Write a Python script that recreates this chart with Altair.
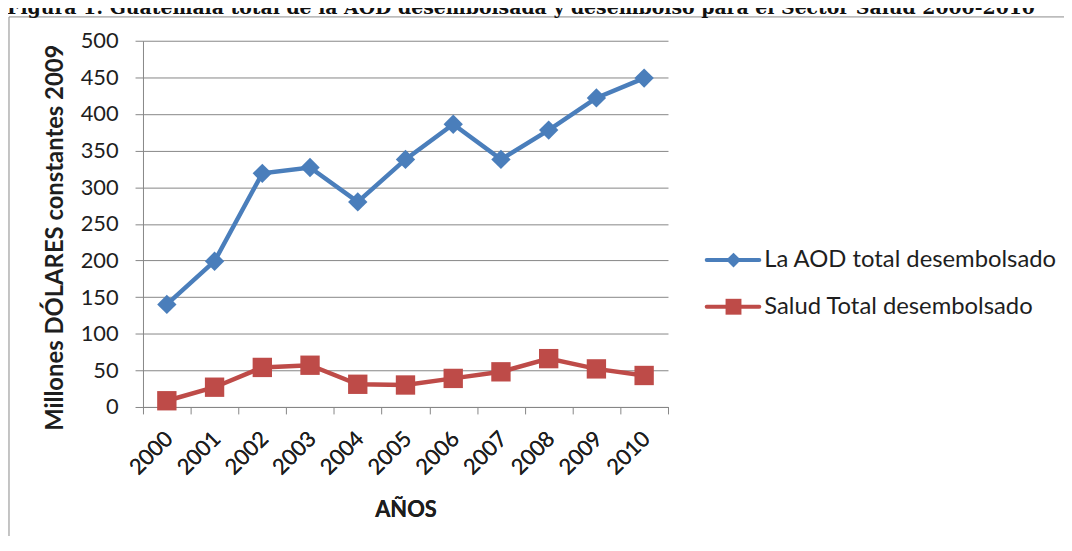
import altair as alt
import pandas as pd

# ---- data ----
years = [2000, 2001, 2002, 2003, 2004, 2005, 2006, 2007, 2008, 2009, 2010]
aod = [140, 199, 319, 327, 280, 338, 386, 338, 378, 422, 449]
salud = [8.5, 27, 54, 57, 31, 30, 39, 48, 66, 52, 43]
series_names = ["La AOD total desembolsado", "Salud Total desembolsado"]
colors = ["#4A7EBB", "#BE4B48"]
shapes = ["diamond", "square"]
y_ticks = [0, 50, 100, 150, 200, 250, 300, 350, 400, 450, 500]
x_bounds = [y - 0.5 for y in years] + [years[-1] + 0.5]
title_text = "Figura 1: Guatemala total de la AOD desembolsada y desembolso para el Sector Salud 2000-2010"
x_title = "AÑOS"
y_title = "Millones DÓLARES constantes 2009"

W, H = 529, 369
FONT = "Lato"
GRID = "#868686"
TXT = "#1e1e1e"

df = pd.DataFrame({
    "year": years * 2,
    "value": aod + salud,
    "series": [series_names[0]] * len(years) + [series_names[1]] * len(years),
})
one = pd.DataFrame({"k": [0]})

xscale = alt.Scale(domain=[x_bounds[0], x_bounds[-1]], nice=False, zero=False)
yscale = alt.Scale(domain=[0, 500], nice=False)

xaxis_labels = alt.Axis(
    orient="bottom",
    values=years, format="d", labelAngle=315, labelAlign="right", labelBaseline="middle",
    labelPadding=28, labelOffset=2, ticks=False, tickSize=0, domain=True, domainColor=GRID,
    grid=False, labelFont=FONT, labelFontSize=22, labelColor=TXT, labelFlush=False,
    labelOverlap=False, title=x_title, titleFont=FONT, titleFontSize=22, titleFontWeight="bold",
    titleX=W / 2, titleY=110, titleBaseline="alphabetic", titleAlign="center", titleColor=TXT,
)
xaxis_ticks = alt.Axis(
    orient="bottom",
    values=x_bounds, labels=False, ticks=True, tickSize=7, tickColor=GRID, domain=True,
    domainColor=GRID, grid=False, title=None,
)
yaxis = alt.Axis(
    values=y_ticks, grid=True, gridColor=GRID, gridWidth=1, domainColor=GRID, tickColor=GRID,
    tickSize=8, labelPadding=17, labelFont=FONT, labelFontSize=22, labelColor=TXT,
    title=y_title, titleFont=FONT, titleFontSize=24, titleFontWeight="bold",
    titleX=-88, titleY=198, titleBaseline="middle", titleAlign="center", titleAngle=270,
    titleColor=TXT,
)

color_enc = alt.Color("series:N", scale=alt.Scale(domain=series_names, range=colors), legend=None)
shape_enc = alt.Shape("series:N", scale=alt.Scale(domain=series_names, range=shapes), legend=None)

base = alt.Chart(df).encode(
    x=alt.X("year:Q", scale=xscale, axis=xaxis_labels),
    y=alt.Y("value:Q", scale=yscale, axis=yaxis),
    color=color_enc,
)
lines = base.mark_line(strokeWidth=4.5)
points = base.mark_point(filled=True, size=380, opacity=1).encode(shape=shape_enc)

tick_layer = alt.Chart(df).mark_point(opacity=0).encode(
    x=alt.X("year:Q", scale=xscale, axis=xaxis_ticks),
    y=alt.Y("value:Q", scale=yscale, axis=yaxis),
)

# frame and (clipped) figure caption
frame_left = alt.Chart(one).mark_rule(color="#8a8a8a", strokeWidth=1).encode(
    x=alt.value(-135), y=alt.value(-24), y2=alt.value(H + 300))
frame_top = alt.Chart(one).mark_rule(color="#8a8a8a", strokeWidth=1).encode(
    x=alt.value(-135), x2=alt.value(W + 600), y=alt.value(-24))
caption = alt.Chart(one).mark_text(
    text=title_text, align="left", baseline="alphabetic", font="DejaVu Serif",
    fontWeight="bold", fontSize=19, color="#111111").encode(
    x=alt.value(-137), y=alt.value(-27))

# manual legend
leg_layers = []
leg_y = [221, 268]
leg_sizes = [225, 256]
for i, name in enumerate(series_names):
    leg_layers.append(alt.Chart(one).mark_rule(color=colors[i], strokeWidth=4, strokeCap="round").encode(
        x=alt.value(568), x2=alt.value(621), y=alt.value(leg_y[i])))
    leg_layers.append(alt.Chart(one).mark_point(filled=True, opacity=1, color=colors[i],
                                                shape=shapes[i], size=leg_sizes[i]).encode(
        x=alt.value(595), y=alt.value(leg_y[i])))
    leg_layers.append(alt.Chart(one).mark_text(text=name, align="left", baseline="middle",
                                               font=FONT, fontSize=24, color=TXT).encode(
        x=alt.value(626), y=alt.value(leg_y[i])))

chart = alt.layer(
    frame_left, frame_top, caption, tick_layer, lines, points, *leg_layers
).resolve_axis(x="independent").properties(
    width=W, height=H,
    padding={"left": 136, "top": 31, "right": 399, "bottom": 128},
    autosize=alt.AutoSizeParams(type="none"),
    background="white",
).configure_view(stroke=None)

chart.save("out.html", embed_options={"renderer": "svg", "actions": False})
